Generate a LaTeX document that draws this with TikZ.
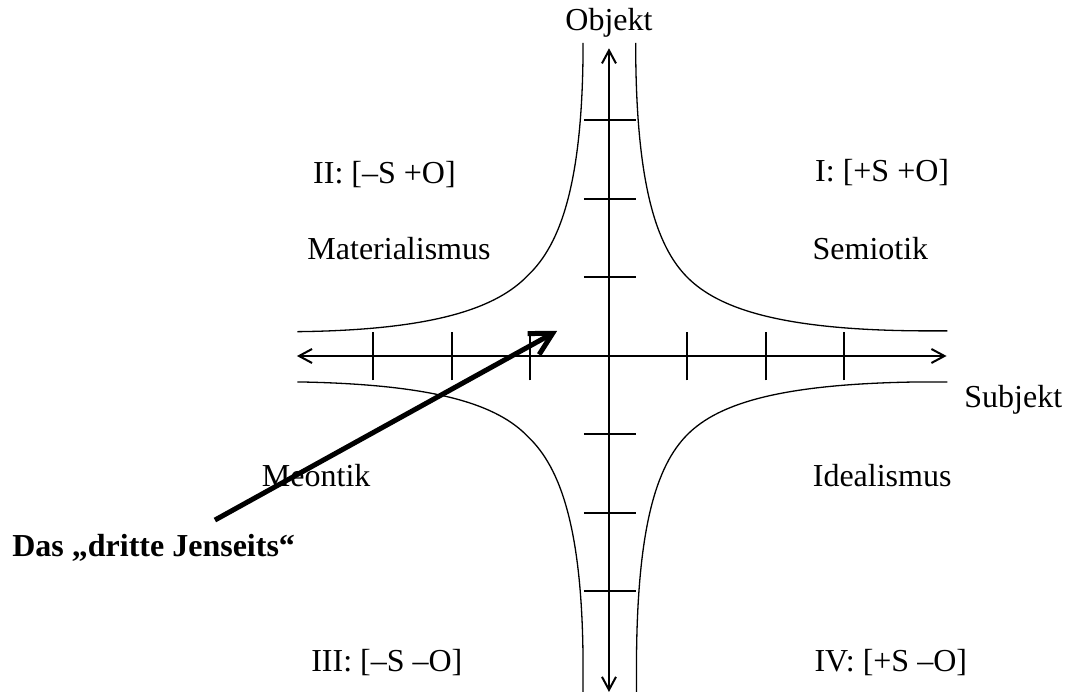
\documentclass[tikz,border=0pt]{standalone}
\usepackage{fontspec}
\setmainfont{Liberation Serif}
\usetikzlibrary{arrows.meta,positioning}

\begin{document}
\begin{tikzpicture}[x=39.25pt,y=39.25pt,
  lbl/.style={font=\fontsize{16}{19}\selectfont},
  axis/.style={line width=1pt,{Straight Barb[length=6.5pt,width=7pt]}-{Straight Barb[length=6.5pt,width=7pt]}},
  axtick/.style={line width=1pt},
  branch/.style={line width=0.65pt}]
  \useasboundingbox (-7.758,-4.357) rectangle (5.822,4.535);
  % axes
  \coordinate (xl) at (-3.975,0); \coordinate (xr) at (4.3,0);
  \coordinate (yb) at (0,-4.28);  \coordinate (yt) at (0,3.92);
  \draw[axis] (xl)--(xr);
  \draw[axis] (yb)--(yt);
  \foreach \i in {-3,-2,-1,1,2,3} {
    \draw[axtick] (\i,-0.31)--(\i,0.31);
    \draw[axtick] (-0.32,\i)--(0.34,\i);
  }
  \node[lbl] (objekt) at (0,4.25) {Objekt};
  \node[lbl] (subjekt) at (5.15,-0.56) {Subjekt};
  % hyperbola branches
  \draw[branch] (0.34,3.99) .. controls (0.34,2.2) and (0.6,1.4) .. (1,1)
    .. controls (1.4,0.6) and (2.2,0.33) .. (3.99,0.32) -- (4.31,0.32);
  \draw[branch] (-0.33,3.99) .. controls (-0.33,2.2) and (-0.62,1.42) .. (-1.03,1.03)
    .. controls (-1.42,0.62) and (-2.2,0.33) .. (-3.97,0.31);
  \draw[branch] (-3.97,-0.33) .. controls (-2.2,-0.36) and (-1.42,-0.62) .. (-1.03,-1.03)
    .. controls (-0.62,-1.42) and (-0.33,-2.2) .. (-0.33,-3.99) -- (-0.33,-4.28);
  \draw[branch] (4.31,-0.33) -- (3.99,-0.33) .. controls (2.2,-0.35) and (1.4,-0.6) .. (1,-1)
    .. controls (0.6,-1.4) and (0.35,-2.2) .. (0.35,-3.99) -- (0.35,-4.28);
  % quadrant labels
  \node[lbl] (quadII) at (-2.86,2.31) {II: [--S +O]};
  \node[lbl] (quadI) at (3.48,2.34) {I: [+S +O]};
  \node[lbl] (materialismus) at (-2.675,1.37) {Materialismus};
  \node[lbl] (semiotik) at (3.33,1.37) {Semiotik};
  \node[lbl] (meontik) at (-3.73,-1.52) {Meontik};
  \node[lbl] (idealismus) at (3.48,-1.52) {Idealismus};
  \node[lbl] (quadIII) at (-2.83,-3.91) {III: [--S --O]};
  \node[lbl] (quadIV) at (3.59,-3.91) {IV: [+S --O]};
  % das dritte Jenseits
  \node[lbl,font=\fontsize{16}{19}\selectfont\bfseries] (jenseits) at (-5.8,-2.45) {Das „dritte Jenseits“};
  \coordinate (tail) at (-5.02,-2.09);
  \coordinate (tip) at (-0.66,0.32);
  \draw[line width=2.5pt,-{Straight Barb[length=11pt,width=12pt]}] (tail)--(tip);
\end{tikzpicture}
\end{document}
